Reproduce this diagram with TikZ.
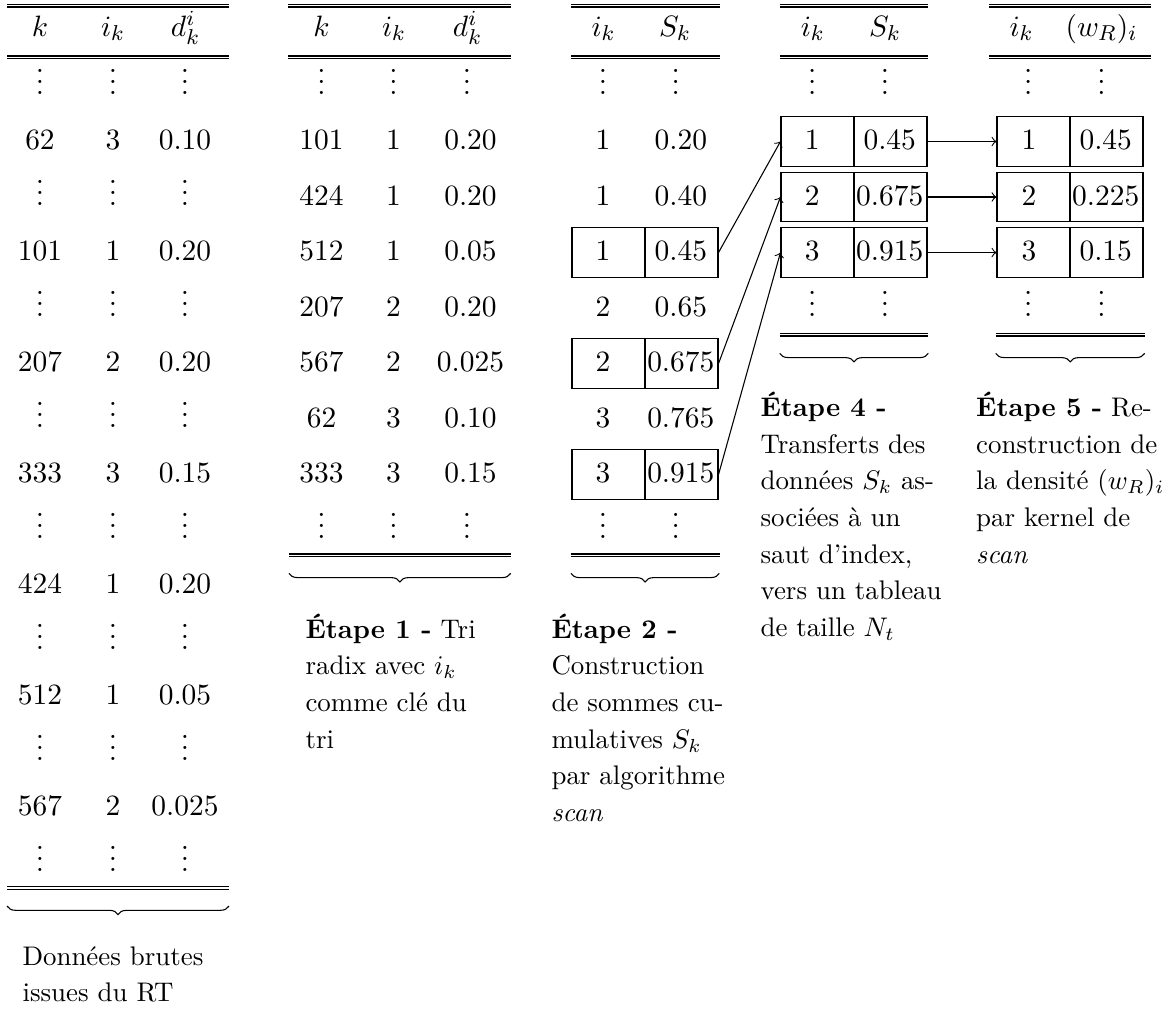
\documentclass[tikz,border=0pt]{standalone}
\usetikzlibrary{decorations.pathreplacing}
\newcommand\dblrule[3]{\draw[rul] (#1,#3) -- (#2,#3) (#1,{#3+2.7}) -- (#2,{#3+2.7});}
\begin{document}
\begin{tikzpicture}[x=0.3717pt,y=-0.3717pt,
  num/.style={anchor=base,inner sep=0pt,font=\fontsize{10.95}{13.6}\selectfont},
  cellbox/.style={draw,line width=0.4pt,minimum width=27.13pt,minimum height=18.44pt,inner sep=0pt},
  lbl/.style={anchor=base west,align=left,inner sep=0pt,font=\fontsize{10}{13.6}\selectfont},
  rul/.style={line width=0.45pt},
  brc/.style={decorate,decoration={brace,mirror,amplitude=3.2pt},line width=0.4pt},
  arr/.style={->,line width=0.4pt}]
\useasboundingbox (0,0) rectangle (1169,1009);

% ---------------- rules ----------------
\dblrule{7}{229}{4.2}   \dblrule{7}{229}{56}   \dblrule{7}{229}{886.7}
\dblrule{288.3}{510.5}{4.2} \dblrule{288.3}{510.5}{56} \dblrule{289}{510.7}{554}
\dblrule{571}{719.5}{4.2} \dblrule{571}{719.5}{56} \dblrule{571}{719.5}{554}
\dblrule{779.7}{928.3}{4.2} \dblrule{779.7}{928.3}{56} \dblrule{779.7}{928.3}{333.3}
\dblrule{989}{1150.7}{4.2} \dblrule{989}{1150.7}{56} \dblrule{995.7}{1144.7}{333.3}

% ---------------- headers ----------------
\node[num] (t1hk) at (40,36) {$k$};
\node[num] (t1hi) at (113,36) {$i_k$};
\node[num] (t1hd) at (185.5,36) {$d^i_k$};
\node[num] (t2hk) at (321.5,36) {$k$};
\node[num] (t2hi) at (394,36) {$i_k$};
\node[num] (t2hd) at (467.5,36) {$d^i_k$};
\node[num] (t3hi) at (603.5,36) {$i_k$};
\node[num] (t3hs) at (675,36) {$S_k$};
\node[num] (t4hi) at (812.8,36) {$i_k$};
\node[num] (t4hs) at (885,36) {$S_k$};
\node[num] (t5hi) at (1021.5,36) {$i_k$};
\node[num] (t5hw) at (1101.5,36) {$(w_R)_i$};

% ---------------- table 1 ----------------
\foreach \r in {1,3,...,15} {
  \node[num] (t1d\r a) at (40,{94+(\r-1)*55.5}) {$\vdots$};
  \node[num] (t1d\r b) at (113,{94+(\r-1)*55.5}) {$\vdots$};
  \node[num] (t1d\r c) at (185,{94+(\r-1)*55.5}) {$\vdots$};
}
\foreach \r/\a/\b/\c in {2/62/3/0.10,4/101/1/0.20,6/207/2/0.20,8/333/3/0.15,
                         10/424/1/0.20,12/512/1/0.05,14/567/2/0.025} {
  \node[num] (t1r\r a) at (40,{94+(\r-1)*55.5}) {\a};
  \node[num] (t1r\r b) at (113,{94+(\r-1)*55.5}) {\b};
  \node[num] (t1r\r c) at (185,{94+(\r-1)*55.5}) {\c};
}

% ---------------- table 2 ----------------
\foreach \r in {1,9} {
  \node[num] (t2d\r a) at (321.5,{94+(\r-1)*55.5}) {$\vdots$};
  \node[num] (t2d\r b) at (393.5,{94+(\r-1)*55.5}) {$\vdots$};
  \node[num] (t2d\r c) at (467,{94+(\r-1)*55.5}) {$\vdots$};
}
\foreach \r/\a/\b/\c in {2/101/1/0.20,3/424/1/0.20,4/512/1/0.05,5/207/2/0.20,
                         6/567/2/0.025,7/62/3/0.10,8/333/3/0.15} {
  \node[num] (t2r\r a) at (321.5,{94+(\r-1)*55.5}) {\a};
  \node[num] (t2r\r b) at (393.5,{94+(\r-1)*55.5}) {\b};
  \node[num] (t2r\r c) at (470.5,{94+(\r-1)*55.5}) {\c};
}

% ---------------- table 3 ----------------
\foreach \r in {1,9} {
  \node[num] (t3d\r a) at (603,{94+(\r-1)*55.5}) {$\vdots$};
  \node[num] (t3d\r b) at (675.7,{94+(\r-1)*55.5}) {$\vdots$};
}
\foreach \r/\a/\b in {2/1/0.20,3/1/0.40,4/1/0.45,5/2/0.65,6/2/0.675,7/3/0.765,8/3/0.915} {
  \node[num] (t3r\r a) at (603,{94+(\r-1)*55.5}) {\a};
  \node[num] (t3r\r b) at (680.8,{94+(\r-1)*55.5}) {\b};
}
\foreach \r in {4,6,8} {
  \node[cellbox] (t3c\r L) at (608.5,{86+(\r-1)*55.5}) {};
  \node[cellbox] (t3c\r R) at (681.5,{86+(\r-1)*55.5}) {};
}

% ---------------- table 4 ----------------
\foreach \r in {1,5} {
  \node[num] (t4d\r a) at (812.3,{94+(\r-1)*55.5}) {$\vdots$};
  \node[num] (t4d\r b) at (885,{94+(\r-1)*55.5}) {$\vdots$};
}
\foreach \r/\a/\b in {2/1/0.45,3/2/0.675,4/3/0.915} {
  \node[cellbox] (t4c\r L) at (817.5,{86+(\r-1)*55.5}) {};
  \node[cellbox] (t4c\r R) at (890.5,{86+(\r-1)*55.5}) {};
  \node[num] (t4r\r a) at (812.3,{94+(\r-1)*55.5}) {\a};
  \node[num] (t4r\r b) at (889.7,{94+(\r-1)*55.5}) {\b};
}

% ---------------- table 5 ----------------
\foreach \r in {1,5} {
  \node[num] (t5d\r a) at (1028.3,{94+(\r-1)*55.5}) {$\vdots$};
  \node[num] (t5d\r b) at (1101.5,{94+(\r-1)*55.5}) {$\vdots$};
}
\foreach \r/\a/\b in {2/1/0.45,3/2/0.225,4/3/0.15} {
  \node[cellbox] (t5c\r L) at (1033.5,{86+(\r-1)*55.5}) {};
  \node[cellbox] (t5c\r R) at (1106.5,{86+(\r-1)*55.5}) {};
  \node[num] (t5r\r a) at (1029,{94+(\r-1)*55.5}) {\a};
  \node[num] (t5r\r b) at (1105.7,{94+(\r-1)*55.5}) {\b};
}

% ---------------- arrows ----------------
\draw[arr] (t3c4R.east) -- (t4c2L.west);
\draw[arr] (t3c6R.east) -- (t4c3L.west);
\draw[arr] (t3c8R.east) -- (t4c4L.west);
\draw[arr] (t4c2R.east) -- (t5c2L.west);
\draw[arr] (t4c3R.east) -- (t5c3L.west);
\draw[arr] (t4c4R.east) -- (t5c4L.west);

% ---------------- braces ----------------
\draw[brc] (7,906) -- (229,906);
\draw[brc] (289,573.3) -- (510.7,573.3);
\draw[brc] (571,573.3) -- (719.3,573.3);
\draw[brc] (779.7,353.3) -- (928.3,353.3);
\draw[brc] (995.7,353.3) -- (1144.7,353.3);

% ---------------- labels (anchor = baseline of the last line) ----------------
\node[lbl] (lab0) at (22,1001.6) {Données brutes\\issues du RT};
\node[lbl] (lab1) at (305,748.1) {\textbf{Étape 1 -} Tri\\radix avec $i_k$\\comme clé du\\tri};
\node[lbl] (lab2) at (551,821.3) {\textbf{Étape 2 -}\\Construction\\de sommes cu-\\mulatives $S_k$\\par algorithme\\\textit{scan}};
\node[lbl] (lab4) at (760,636.2) {\textbf{Étape 4 -}\\Transferts des\\données $S_k$ as-\\sociées à un\\saut d’index,\\vers un tableau\\de taille $N_t$};
\node[lbl] (lab5) at (975.7,563.1) {\textbf{Étape 5 -} Re-\\construction de\\la densité $(w_R)_i$\\par kernel de\\\textit{scan}};
\end{tikzpicture}
\end{document}
